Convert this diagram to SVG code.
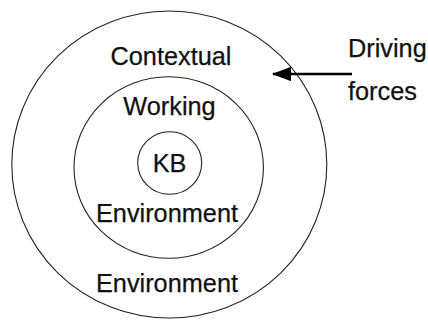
<svg xmlns="http://www.w3.org/2000/svg" width="428" height="320" viewBox="0 0 428 320">
<style>
.ring{fill:none;stroke:#222;stroke-width:1.1}
.t{font-family:"Liberation Sans",Arial,sans-serif;font-size:25.3px;fill:#111;stroke:#111;stroke-width:0.25}
.c{text-anchor:middle}
.arrow{stroke:#000;stroke-width:2.4;fill:none}
</style>
<defs>
<marker id="ah" markerWidth="8" markerHeight="6" refX="7.5" refY="3" orient="auto" markerUnits="strokeWidth">
<path d="M0,0 L8,3 L0,6 Z" fill="#000"/>
</marker>
</defs>
<rect width="428" height="320" fill="#fff"/>
<g id="contextual">
<ellipse class="ring" cx="169.3" cy="164.5" rx="157.5" ry="153.5"/>
<text class="t c" x="171" y="64.5">Contextual</text>
<text class="t c" x="167" y="291.5">Environment</text>
</g>
<g id="working">
<ellipse class="ring" cx="168.7" cy="167.5" rx="94.7" ry="90.8"/>
<text class="t c" x="169.5" y="115">Working</text>
<text class="t c" x="167" y="221.5">Environment</text>
</g>
<g id="kb">
<ellipse class="ring" cx="169.7" cy="163" rx="32" ry="31.3"/>
<text class="t c" x="169.5" y="171.5">KB</text>
</g>
<g id="driving-forces">
<text class="t" x="348" y="56.5">Driving</text>
<text class="t" x="348" y="100">forces</text>
</g>
<g id="connectors">
<line class="arrow" x1="352" y1="74" x2="273" y2="74" marker-end="url(#ah)"/>
</g>
</svg>
